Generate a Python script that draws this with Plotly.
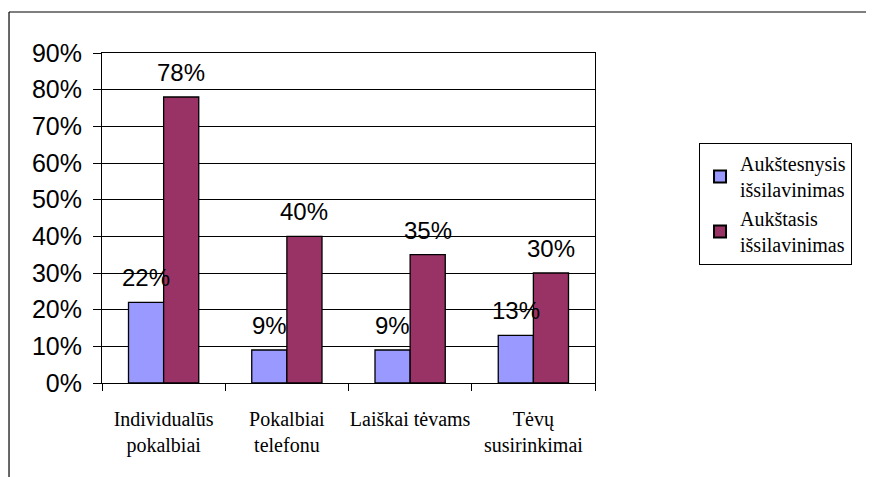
import plotly.graph_objects as go

# data
categories = ["Individualūs<br>pokalbiai", "Pokalbiai<br>telefonu", "Laiškai tėvams", "Tėvų<br>susirinkimai"]
series_names = ["Aukštesnysis<br>išsilavinimas", "Aukštasis<br>išsilavinimas"]
aukstesnysis = [22, 9, 9, 13]
aukstasis = [78, 40, 35, 30]
y_ticks = [0, 10, 20, 30, 40, 50, 60, 70, 80, 90]

COLORS = ["#9999FF", "#993366"]
SANS = "Liberation Sans"
SERIF = "Liberation Serif"

fig = go.Figure()
for name, vals, col in zip(series_names, [aukstesnysis, aukstasis], COLORS):
    fig.add_trace(go.Bar(
        x=categories, y=vals, name=name,
        marker=dict(color=col, line=dict(color="black", width=1.3)),
    ))

# value labels above bars
for vals, shift in [(aukstesnysis, -17.5), (aukstasis, 17.5)]:
    for c, v in zip(categories, vals):
        fig.add_annotation(
            x=c, y=v, text=f"{v}%", showarrow=False, xshift=shift, yshift=9,
            yanchor="bottom", font=dict(family=SANS, size=24, color="black"),
        )

# outer chart frame: only left and top edges are in view (page has an 8px body margin)
frame = dict(type="line", xref="paper", yref="paper", line=dict(color="black", width=1.2), layer="below")
fig.add_shape(x0=-0.1886, x1=-0.1886, y0=-0.35, y1=1.1242, **frame)
fig.add_shape(x0=-0.1886, x1=1.7, y0=1.1242, y1=1.1242, **frame)

fig.update_layout(
    width=866, height=469,
    margin=dict(l=94, r=279, t=45, b=94, autoexpand=False),
    paper_bgcolor="white", plot_bgcolor="white",
    barmode="group", bargap=0.43, bargroupgap=0,
    showlegend=True,
    legend=dict(
        x=1.211, y=0.727, xanchor="left", yanchor="top",
        bordercolor="black", borderwidth=1,
        font=dict(family=SERIF, size=20, color="black"),
        itemsizing="constant", tracegroupgap=10,
    ),
)
fig.update_xaxes(
    showline=True, linecolor="black", linewidth=1, mirror=True,
    ticks="outside", tickson="boundaries", ticklen=7, tickcolor="black",
    tickfont=dict(family=SERIF, size=20, color="black"), tickangle=0,
    ticklabelstandoff=18, showgrid=False, automargin=False,
)
fig.update_yaxes(
    range=[0, 90], tickvals=y_ticks, ticktext=[f"{t}%" for t in y_ticks],
    showline=True, linecolor="black", linewidth=1, mirror=True,
    ticks="outside", ticklen=8, tickcolor="black",
    tickfont=dict(family=SANS, size=25, color="black"),
    showgrid=True, gridcolor="black", gridwidth=1, zeroline=False,
    ticklabelstandoff=6, automargin=False,
)

fig.write_html("out.html")
